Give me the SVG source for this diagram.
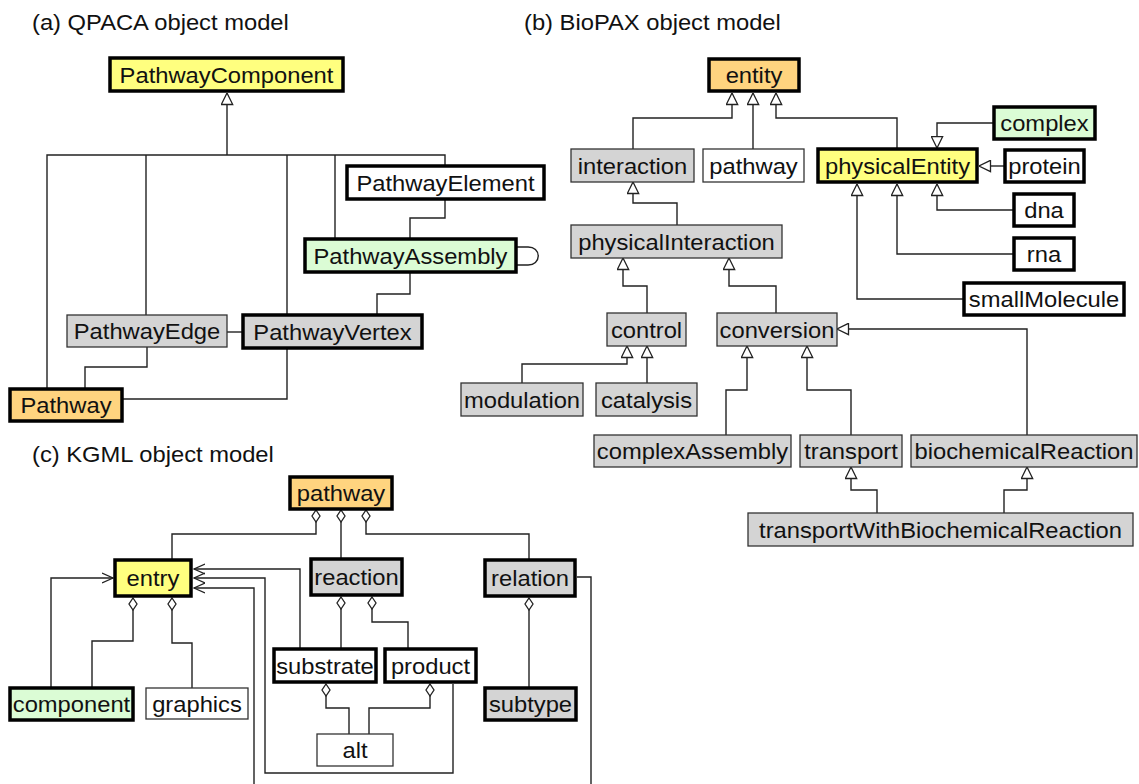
<svg xmlns="http://www.w3.org/2000/svg" width="1139" height="784" viewBox="0 0 1139 784">
  <style>
    text { font-family: "Liberation Sans", Arial, Helvetica, sans-serif; font-size: 22px; fill: #111; }
    .lbl { text-anchor: middle; }
    .thick { stroke: #000; stroke-width: 3.5; }
    .thin { stroke: #333; stroke-width: 1.3; }
    .yellow { fill: #ffff7f; }
    .orange { fill: #ffd47f; }
    .green { fill: #dbfcd5; }
    .gray { fill: #d4d4d4; }
    .white { fill: #fff; }
    .conn path { fill: none; stroke: #222; stroke-width: 1.4; }
    .inh { marker-end: url(#tri); }
    .agg { marker-start: url(#dia); }
    .ref { marker-end: url(#vee); }
  </style>
  <defs>
    <marker id="tri" viewBox="0 0 13 13" refX="12.5" refY="6.5" markerWidth="13" markerHeight="13" markerUnits="userSpaceOnUse" orient="auto">
      <path d="M1,0.8 L12.5,6.5 L1,12.2 Z" fill="#fff" stroke="#222" stroke-width="1.3"/>
    </marker>
    <marker id="dia" viewBox="0 0 14 10" refX="1" refY="5" markerWidth="14" markerHeight="10" markerUnits="userSpaceOnUse" orient="auto">
      <path d="M1,5 L7,1 L13,5 L7,9 Z" fill="#fff" stroke="#222" stroke-width="1.3"/>
    </marker>
    <marker id="vee" viewBox="0 0 12 12" refX="11" refY="6" markerWidth="12" markerHeight="12" markerUnits="userSpaceOnUse" orient="auto">
      <path d="M0,1 L11,6 L0,11" fill="none" stroke="#222" stroke-width="1.3"/>
    </marker>
  </defs>

  <rect width="1139" height="784" fill="#fff"/>

  <!-- panel titles (glyphs widened slightly) -->
  <text transform="translate(32 30) scale(1.08 1)">(a) QPACA object model</text>
  <text transform="translate(524 30) scale(1.08 1)">(b) BioPAX object model</text>
  <text transform="translate(32 462) scale(1.08 1)">(c) KGML object model</text>

  <!-- connectors -->
  <g id="connectors" class="conn">
    <!-- (a) QPACA -->
    <path class="inh" d="M227,155 V93"/>
    <path d="M47,389 V155 H445 V166"/>
    <path d="M146,315 V155"/>
    <path d="M287,315 V155"/>
    <path d="M335,239 V155"/>
    <path d="M445,199 V218 H410 V239"/>
    <path d="M410,272 V294 H377 V315"/>
    <path d="M227,332 H243"/>
    <path d="M147,347 V367 H85 V389"/>
    <path d="M122,399 H287 V348"/>
    <path d="M517,247 H527 C542,246 542,266 527,265 L517,265"/>

    <!-- (b) BioPAX -->
    <path class="inh" d="M633,149 V118 H732 V93"/>
    <path class="inh" d="M753,149 V93"/>
    <path class="inh" d="M897,149 V118 H776 V93"/>
    <path class="inh" d="M994,123 H937 V148"/>
    <path class="inh" d="M1005,166 H979"/>
    <path class="inh" d="M1014,210 H937 V184"/>
    <path class="inh" d="M1014,254 H897 V184"/>
    <path class="inh" d="M964,299 H857 V184"/>
    <path class="inh" d="M677,225 V203 H633 V182"/>
    <path class="inh" d="M647,313 V286 H623 V258"/>
    <path class="inh" d="M776,313 V286 H729 V258"/>
    <path class="inh" d="M522,383 V364 H627 V346"/>
    <path class="inh" d="M647,383 V346"/>
    <path class="inh" d="M726,435 V390 H747 V346"/>
    <path class="inh" d="M851,435 V390 H807 V346"/>
    <path class="inh" d="M1027,435 V329 H837"/>
    <path class="inh" d="M877,513 V490 H851 V467"/>
    <path class="inh" d="M1004,513 V490 H1027 V467"/>

    <!-- (c) KGML -->
    <path class="agg" d="M316,510 V534 H172 V559"/>
    <path class="agg" d="M341,510 V559"/>
    <path class="agg" d="M366,510 V534 H529 V560"/>
    <path class="agg" d="M341,597 V649"/>
    <path class="agg" d="M372,597 V622 H408 V649"/>
    <path class="agg" d="M529,598 V688"/>
    <path class="agg" d="M133,598 V641 H92 V688"/>
    <path class="agg" d="M172,598 V643 H192 V688"/>
    <path class="agg" d="M326,684 V708 H349 V734"/>
    <path class="agg" d="M430,684 V708 H369 V734"/>
    <path class="ref" d="M300,649 V569 H194"/>
    <path class="ref" d="M453,684 V773 H265 V578 H194"/>
    <path class="ref" d="M577,577 H591 V800 H254 V588 H194"/>
    <path class="ref" d="M51,688 V578 H113"/>
  </g>

  <!-- (a) QPACA nodes -->
  <g id="PathwayComponent"><rect class="thick yellow" x="110" y="58" width="233" height="33"/><text class="lbl" transform="translate(226.5 83) scale(1.08 1)">PathwayComponent</text></g>
  <g id="PathwayElement"><rect class="thick white" x="347" y="166" width="197" height="33"/><text class="lbl" transform="translate(445.5 191) scale(1.08 1)">PathwayElement</text></g>
  <g id="PathwayAssembly"><rect class="thick green" x="305" y="239" width="211" height="33"/><text class="lbl" transform="translate(410.5 264) scale(1.08 1)">PathwayAssembly</text></g>
  <g id="PathwayEdge"><rect class="thin gray" x="67" y="315" width="160" height="32"/><text class="lbl" transform="translate(147 339) scale(1.08 1)">PathwayEdge</text></g>
  <g id="PathwayVertex"><rect class="thick gray" x="243" y="315" width="179" height="33"/><text class="lbl" transform="translate(332.5 340) scale(1.08 1)">PathwayVertex</text></g>
  <g id="Pathway"><rect class="thick orange" x="10" y="389" width="112" height="32"/><text class="lbl" transform="translate(66 413) scale(1.08 1)">Pathway</text></g>

  <!-- (b) BioPAX nodes -->
  <g id="entity"><rect class="thick orange" x="709" y="59" width="90" height="32"/><text class="lbl" transform="translate(754 83) scale(1.08 1)">entity</text></g>
  <g id="interaction"><rect class="thin gray" x="571" y="149" width="123" height="33"/><text class="lbl" transform="translate(632.5 174) scale(1.08 1)">interaction</text></g>
  <g id="pathway"><rect class="thin white" x="703" y="149" width="101" height="33"/><text class="lbl" transform="translate(753.5 174) scale(1.08 1)">pathway</text></g>
  <g id="physicalEntity"><rect class="thick yellow" x="818" y="149" width="159" height="33"/><text class="lbl" transform="translate(897.5 174) scale(1.08 1)">physicalEntity</text></g>
  <g id="complex"><rect class="thick green" x="994" y="107" width="101" height="32"/><text class="lbl" transform="translate(1044.5 131) scale(1.08 1)">complex</text></g>
  <g id="protein"><rect class="thick white" x="1005" y="150" width="79" height="32"/><text class="lbl" transform="translate(1044.5 174) scale(1.08 1)">protein</text></g>
  <g id="dna"><rect class="thick white" x="1014" y="194" width="60" height="32"/><text class="lbl" transform="translate(1044 218) scale(1.08 1)">dna</text></g>
  <g id="rna"><rect class="thick white" x="1014" y="238" width="60" height="32"/><text class="lbl" transform="translate(1044 262) scale(1.08 1)">rna</text></g>
  <g id="smallMolecule"><rect class="thick white" x="964" y="283" width="160" height="32"/><text class="lbl" transform="translate(1044 307) scale(1.08 1)">smallMolecule</text></g>
  <g id="physicalInteraction"><rect class="thin gray" x="571" y="225" width="211" height="33"/><text class="lbl" transform="translate(676.5 250) scale(1.08 1)">physicalInteraction</text></g>
  <g id="control"><rect class="thin gray" x="607" y="313" width="79" height="33"/><text class="lbl" transform="translate(646.5 338) scale(1.08 1)">control</text></g>
  <g id="conversion"><rect class="thin gray" x="717" y="313" width="120" height="33"/><text class="lbl" transform="translate(777 338) scale(1.08 1)">conversion</text></g>
  <g id="modulation"><rect class="thin gray" x="461" y="383" width="122" height="33"/><text class="lbl" transform="translate(522 408) scale(1.08 1)">modulation</text></g>
  <g id="catalysis"><rect class="thin gray" x="596" y="383" width="101" height="33"/><text class="lbl" transform="translate(646.5 408) scale(1.08 1)">catalysis</text></g>
  <g id="complexAssembly"><rect class="thin gray" x="594" y="435" width="197" height="32"/><text class="lbl" transform="translate(692.5 459) scale(1.08 1)">complexAssembly</text></g>
  <g id="transport"><rect class="thin gray" x="800" y="435" width="102" height="32"/><text class="lbl" transform="translate(851 459) scale(1.08 1)">transport</text></g>
  <g id="biochemicalReaction"><rect class="thin gray" x="911" y="435" width="226" height="32"/><text class="lbl" transform="translate(1024 459) scale(1.08 1)">biochemicalReaction</text></g>
  <g id="transportWithBiochemicalReaction"><rect class="thin gray" x="748" y="513" width="385" height="33"/><text class="lbl" transform="translate(940.5 538) scale(1.08 1)">transportWithBiochemicalReaction</text></g>

  <!-- (c) KGML nodes -->
  <g id="kgml-pathway"><rect class="thick orange" x="290" y="477" width="102" height="32"/><text class="lbl" transform="translate(341 501) scale(1.08 1)">pathway</text></g>
  <g id="entry"><rect class="thick yellow" x="115" y="560" width="76" height="36"/><text class="lbl" transform="translate(153 586) scale(1.08 1)">entry</text></g>
  <g id="reaction"><rect class="thick gray" x="311" y="559" width="91" height="36"/><text class="lbl" transform="translate(356.5 585) scale(1.08 1)">reaction</text></g>
  <g id="relation"><rect class="thick gray" x="485" y="560" width="90" height="36"/><text class="lbl" transform="translate(530 586) scale(1.08 1)">relation</text></g>
  <g id="component"><rect class="thick green" x="10" y="688" width="123" height="32"/><text class="lbl" transform="translate(71.5 712) scale(1.08 1)">component</text></g>
  <g id="graphics"><rect class="thin white" x="146" y="688" width="102" height="31"/><text class="lbl" transform="translate(197 712) scale(1.08 1)">graphics</text></g>
  <g id="substrate"><rect class="thick white" x="274" y="649" width="102" height="33"/><text class="lbl" transform="translate(325 674) scale(1.08 1)">substrate</text></g>
  <g id="product"><rect class="thick white" x="385" y="649" width="91" height="33"/><text class="lbl" transform="translate(430.5 674) scale(1.08 1)">product</text></g>
  <g id="subtype"><rect class="thick gray" x="485" y="688" width="91" height="32"/><text class="lbl" transform="translate(530.5 712) scale(1.08 1)">subtype</text></g>
  <g id="alt"><rect class="thin white" x="317" y="734" width="76" height="32"/><text class="lbl" transform="translate(355 758) scale(1.08 1)">alt</text></g>
</svg>
